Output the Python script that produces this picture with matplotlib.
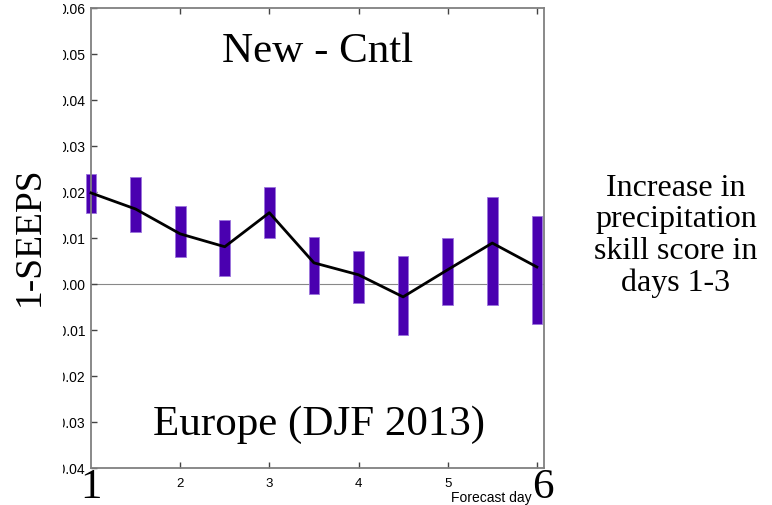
import matplotlib.pyplot as plt
from matplotlib.patches import Rectangle

# Forecast days and skill-score differences (New - Cntl)
days = [1.0, 1.5, 2.0, 2.5, 3.0, 3.5, 4.0, 4.5, 5.0, 5.5, 6.0]
mean_diff = [0.0198, 0.0163, 0.0109, 0.0081, 0.0155, 0.0046, 0.0020,
             -0.0028, 0.0031, 0.0089, 0.0037]
upper = [0.0239, 0.0233, 0.0170, 0.0139, 0.0211, 0.0102, 0.0072,
         0.0061, 0.0100, 0.0189, 0.0148]
lower = [0.0154, 0.0113, 0.0059, 0.0017, 0.0100, -0.0022, -0.0041,
         -0.0111, -0.0046, -0.0046, -0.0087]
yticks = [-0.04, -0.03, -0.02, -0.01, 0.0, 0.01, 0.02, 0.03, 0.04, 0.05, 0.06]
xticks = [2, 3, 4, 5, 6]

W, H = 772, 505
fig = plt.figure(figsize=(W / 100, H / 100), dpi=100)
ax = fig.add_axes([91 / W, 1 - 468 / H, (544 - 91) / W, (468 - 8) / H])

# confidence bars
heights = [u - l for u, l in zip(upper, lower)]
ax.bar(days, heights, bottom=lower, width=0.12, color='#4a00b0',
       edgecolor='#9b74dc', linewidth=0.6, zorder=2, clip_on=False)
ax.plot(days, mean_diff, color='black', lw=2, zorder=3, clip_on=False)
ax.axhline(0, color='#888888', lw=0.8, zorder=1)

ax.set_xlim(1, 6.08)
ax.set_ylim(-0.04, 0.06)
ax.set_xticks(xticks)
ax.set_xticklabels(['2', '3', '4', '5', ''], fontsize=9.5,
                   fontfamily='Liberation Sans')
ax.set_yticks(yticks)
ax.set_yticklabels([f'{v:.2f}' for v in yticks], fontsize=10,
                   fontfamily='Liberation Sans')
ax.tick_params(direction='in', length=4, width=1, color='#444444',
               top=True, right=False)
ax.tick_params(axis='x', pad=7)
ax.tick_params(axis='y', pad=4)
for s in ax.spines.values():
    s.set_color('#808080')
    s.set_linewidth(1.3)

# white strip on the far left hides the leading digits
fig.patches.append(Rectangle((0, 0), 63 / W, 1, transform=fig.transFigure,
                             facecolor='white', edgecolor='none', zorder=5))

serif = 'Liberation Serif'


def ftext(x, y, s, **kw):
    fig.text(x / W, 1 - y / H, s, ha='center', va='center',
             family=serif, zorder=6, **kw)


ftext(318, 52, 'New - Cntl', fontsize=31)
ftext(319, 425, 'Europe (DJF 2013)', fontsize=31)
ftext(29, 236, '1-SEEPS', fontsize=27, rotation=90)
ftext(91, 488, '1', fontsize=31)
ftext(543, 488, '6', fontsize=31)
ftext(676, 236, 'Increase in\nprecipitation\nskill score in\ndays 1-3',
      fontsize=23, linespacing=1.12)
fig.text(491 / W, 1 - 498 / H, 'Forecast day', ha='center', va='center',
         fontsize=10, family='Liberation Sans')

fig.savefig('out.png', dpi=100)
